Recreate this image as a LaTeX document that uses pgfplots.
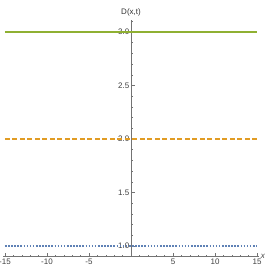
\documentclass[border=0pt]{standalone}
\usepackage{fontspec}
\setmainfont{Liberation Sans}
\usepackage{pgfplots}
\pgfplotsset{compat=1.18}
\definecolor{mmBlue}{RGB}{94,129,181}
\definecolor{mmOrange}{RGB}{225,156,36}
\definecolor{mmGreen}{RGB}{143,176,50}
\begin{document}
\begin{tikzpicture}
\begin{axis}[
  scale only axis, width=255.4pt, height=236.5pt,
  xmin=-15.2, xmax=15.2, ymin=0.9, ymax=3.11,
  axis x line=bottom, axis y line=middle,
  axis line style={draw=black!55, -},
  xtick={-15,-10,-5,0,5,10,15},
  xticklabels={-15,-10,-5,,5,10,15},
  ytick={1.0,1.5,2.0,2.5,3.0},
  yticklabels={1.0,1.5,2.0,2.5,3.0},
  minor xtick={-14,-13,-12,-11,-9,-8,-7,-6,-4,-3,-2,-1,1,2,3,4,6,7,8,9,11,12,13,14},
  minor ytick={1.1,1.2,1.3,1.4,1.6,1.7,1.8,1.9,2.1,2.2,2.3,2.4,2.6,2.7,2.8,2.9,3.1},
  major tick length=4pt, minor tick length=2pt,
  tick align=inside,
  every tick/.style={draw=black!55, line width=0.5pt},
  tick label style={font=\fontsize{8}{9}\selectfont, text=black!75},
  xticklabel style={inner sep=2pt},
  yticklabel style={inner sep=1.5pt},
  /pgf/number format/assume math mode=true,
  xlabel={\textit{x}},
  xlabel style={at={(axis description cs:1,0)}, anchor=west, font=\fontsize{8}{9}\selectfont, text=black!75, inner sep=2pt},
  every axis y label/.style={at={(axis description cs:0.5,1)}, anchor=south, font=\fontsize{8}{9}\selectfont, text=black!80, inner sep=4pt},
  ylabel={D(x,t)},
  clip=false,
]
\addplot[draw=mmBlue, line width=1.6pt, dash pattern=on 1.6pt off 1.5pt] coordinates {(-15,1) (15,1)};
\addplot[draw=mmOrange, line width=1.6pt, dash pattern=on 5pt off 2.5pt] coordinates {(-15,2) (15,2)};
\addplot[draw=mmGreen, line width=2.4pt] coordinates {(-15,3) (15,3)};
\coordinate (bl) at (axis cs:-15.595,0.748);
\coordinate (tr) at (axis cs:16.905,3.299);
\end{axis}
\pgfresetboundingbox
\path[use as bounding box] (bl) rectangle (tr);
\end{tikzpicture}
\end{document}
